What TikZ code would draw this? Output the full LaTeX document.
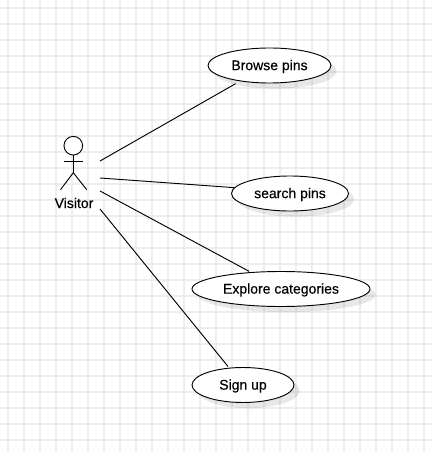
\documentclass[tikz,border=0pt]{standalone}
\usepackage{fontspec}
\setmainfont{Liberation Sans}
\newfontfamily\labelfont[FakeBold=0.35]{Liberation Sans}
\usetikzlibrary{shadows,shapes.geometric}
\tikzset{
  usecase/.style={draw=black,fill=white,ellipse,line width=0.7pt,inner sep=0pt,
    drop shadow={shadow xshift=4.2pt,shadow yshift=-4.2pt,fill=black,opacity=0.09}},
  wire/.style={draw=black,line width=0.7pt},
  label/.style={font=\labelfont\fontsize{10.5pt}{12pt}\selectfont,text=black,inner sep=0pt},
}
\begin{document}
\begin{tikzpicture}[x=0.75pt,y=-0.75pt]
\useasboundingbox (0,0) rectangle (433,452);
\fill[white] (0,0) rectangle (433,452);
% grid
\foreach \k in {0,...,26} {
  \draw[draw=black!7,line width=0.9pt] ({8+16*\k},0) -- ({8+16*\k},452);
}
\foreach \k in {0,...,27} {
  \draw[draw=black!7,line width=0.9pt] (0,{8+16*\k}) -- (433,{8+16*\k});
}
% use cases
\node[usecase,minimum width=92.25pt,minimum height=26.25pt] (browse) at (269.5,65.5) {};
\node[usecase,minimum width=87.75pt,minimum height=26.25pt] (search) at (290,193.5) {};
\node[usecase,minimum width=133.5pt,minimum height=26.25pt] (explore) at (281,289) {};
\node[usecase,minimum width=76.5pt,minimum height=26.25pt] (signup) at (243,385) {};
\node[label,yshift=-0.75pt] at (browse.center) {Browse pins};
\node[label,yshift=-0.75pt] at (search.center) {search pins};
\node[label,yshift=-0.75pt] at (explore.center) {Explore categories};
\node[label,yshift=-0.75pt] at (signup.center) {Sign up};
% actor
\node[draw=black,fill=white,circle,line width=0.7pt,minimum size=14pt,inner sep=0pt] (head) at (73.3,145.7) {};
\coordinate (hip) at (73.3,172.7);
\coordinate (armL) at (64,161);
\coordinate (armR) at (83,161);
\coordinate (footL) at (60.5,189.7);
\coordinate (footR) at (86.7,189.7);
\draw[wire] (head.south) -- (hip);
\draw[wire] (armL) -- (armR);
\draw[wire] (footL) -- (hip) -- (footR);
\node[label] (visitor) at (74,203) {Visitor};
% ports
\coordinate (p1) at (100,161);
\coordinate (p2) at (100,178);
\coordinate (p3) at (100,191);
\coordinate (p4) at (100,209);
% connectors
\draw[wire,shorten >=3.6pt] (p1) -- (browse.208);
\draw[wire] (p2) -- (search.174.7);
\draw[wire,shorten >=1.2pt] (p3) -- (explore.151.4);
\draw[wire,shorten >=1.2pt] (p4) -- (signup.129.8);
\end{tikzpicture}
\end{document}
